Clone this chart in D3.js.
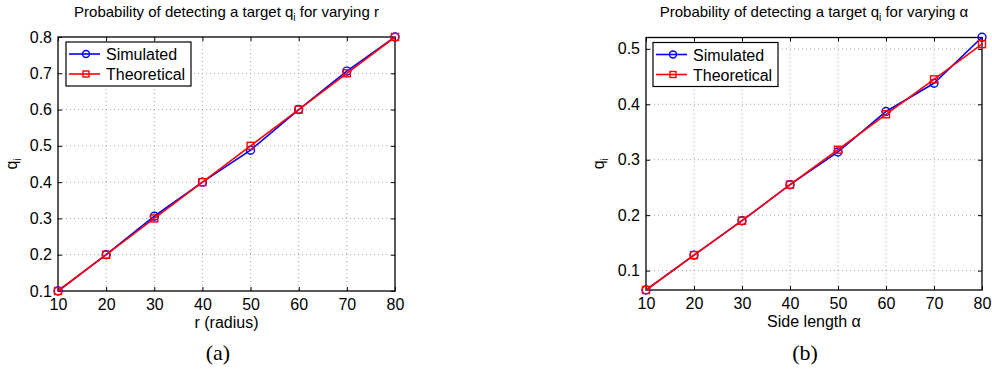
<!DOCTYPE html>
<html>
<head>
<meta charset="utf-8">
<script src="https://cdn.jsdelivr.net/npm/d3@7"></script>
<style>
  body { margin: 0; background: #fff; }
  text { font-family: "Liberation Sans", Arial, sans-serif; }
</style>
</head>
<body>
<svg id="chart"></svg>
<script>
// x values shared by both panels
const xValues = [10, 20, 30, 40, 50, 60, 70, 80];

// panel (a): varying r
const simulatedR = [0.1, 0.2, 0.306, 0.4, 0.488, 0.6, 0.706, 0.8];
const theoreticalR = [0.1, 0.2, 0.3, 0.4, 0.5, 0.6, 0.7, 0.8];
const yTicksR = [0.1, 0.2, 0.3, 0.4, 0.5, 0.6, 0.7, 0.8];

// panel (b): varying alpha
const simulatedA = [0.065, 0.128, 0.190, 0.255, 0.314, 0.387, 0.438, 0.521];
const theoreticalA = [0.065, 0.128, 0.190, 0.255, 0.318, 0.382, 0.445, 0.5085];
const yTicksA = [0.1, 0.2, 0.3, 0.4, 0.5];

const seriesNames = ['Simulated', 'Theoretical'];

const width = 992, height = 373;
const svg = d3.select('#chart').attr('width', width).attr('height', height);
const sans = '"Liberation Sans", Arial, sans-serif';

const drawPanel = (cfg) => {
  const { left, right, top, bottom } = cfg;

  const x = d3.scaleLinear().domain([10, 80]).range([left, right]);
  const y = d3.scaleLinear().domain(cfg.yDomain).range([bottom, top]);

  const g = svg.append('g');

  // dotted grid
  g.append('g')
    .selectAll('line')
    .data(xValues.slice(1, -1))
    .enter()
    .append('line')
    .attr('x1', (d) => x(d)).attr('x2', (d) => x(d))
    .attr('y1', top).attr('y2', bottom)
    .attr('stroke', '#8a8a8a').attr('stroke-width', 0.8)
    .attr('stroke-dasharray', '1,3');

  g.append('g')
    .selectAll('line')
    .data(cfg.yTicks.filter((t) => y(t) > top + 1 && y(t) < bottom - 1))
    .enter()
    .append('line')
    .attr('x1', left).attr('x2', right)
    .attr('y1', (d) => y(d)).attr('y2', (d) => y(d))
    .attr('stroke', '#8a8a8a').attr('stroke-width', 0.8)
    .attr('stroke-dasharray', '1,3');

  // axes: ticks point inwards, MATLAB style
  const fmt = d3.format('.1f');
  const bottomAxis = g.append('g')
    .attr('transform', `translate(0, ${bottom})`)
    .call(d3.axisBottom(x).tickValues(xValues).tickSizeInner(-4).tickSizeOuter(0).tickPadding(8));
  const leftAxis = g.append('g')
    .attr('transform', `translate(${left}, 0)`)
    .call(d3.axisLeft(y).tickValues(cfg.yTicks).tickFormat(fmt).tickSizeInner(-4).tickSizeOuter(0).tickPadding(6));
  g.append('g')
    .attr('transform', `translate(0, ${top})`)
    .call(d3.axisTop(x).tickValues(xValues).tickSizeInner(-4).tickSizeOuter(0).tickFormat(''));
  g.append('g')
    .attr('transform', `translate(${right}, 0)`)
    .call(d3.axisRight(y).tickValues(cfg.yTicks).tickSizeInner(-4).tickSizeOuter(0).tickFormat(''));

  g.selectAll('.domain').remove();
  g.selectAll('.tick line').attr('stroke', '#000');
  [bottomAxis, leftAxis].forEach((a) => {
    a.attr('font-family', sans).attr('font-size', 16);
    a.selectAll('text').attr('fill', '#000');
  });

  g.append('rect')
    .attr('x', left).attr('y', top)
    .attr('width', right - left).attr('height', bottom - top)
    .attr('fill', 'none').attr('stroke', '#000').attr('stroke-width', 1.3);

  // lines and markers
  const line = d3.line().x((d) => x(d[0])).y((d) => y(d[1]));
  const sim = xValues.map((v, i) => [v, cfg.simulated[i]]);
  const theo = xValues.map((v, i) => [v, cfg.theoretical[i]]);

  g.append('path').datum(sim).attr('d', line)
    .attr('fill', 'none').attr('stroke', '#0000ff').attr('stroke-width', 1.6);
  g.append('g').selectAll('circle').data(sim).enter().append('circle')
    .attr('cx', (d) => x(d[0])).attr('cy', (d) => y(d[1])).attr('r', 4)
    .attr('fill', 'none').attr('stroke', '#0000ff').attr('stroke-width', 1.4);

  g.append('path').datum(theo).attr('d', line)
    .attr('fill', 'none').attr('stroke', '#ff0000').attr('stroke-width', 1.6);
  g.append('g').selectAll('rect').data(theo).enter().append('rect')
    .attr('x', (d) => x(d[0]) - 3.5).attr('y', (d) => y(d[1]) - 3.5)
    .attr('width', 7).attr('height', 7)
    .attr('fill', 'none').attr('stroke', '#ff0000').attr('stroke-width', 1.4);

  // legend
  const lg = g.append('g').attr('transform', `translate(${left + cfg.legendDx}, ${top + 5})`);
  lg.append('rect').attr('x', 0).attr('y', 0)
    .attr('width', 125).attr('height', 44)
    .attr('fill', '#fff').attr('stroke', '#000').attr('stroke-width', 1.2);
  seriesNames.forEach((name, i) => {
    const cy = 12 + i * 20;
    const color = i === 0 ? '#0000ff' : '#ff0000';
    lg.append('line').attr('x1', 3).attr('x2', 34).attr('y1', cy).attr('y2', cy)
      .attr('stroke', color).attr('stroke-width', 1.6);
    if (i === 0) {
      lg.append('circle').attr('cx', 20).attr('cy', cy).attr('r', 3.5)
        .attr('fill', 'none').attr('stroke', color).attr('stroke-width', 1.4);
    } else {
      lg.append('rect').attr('x', 17).attr('y', cy - 3).attr('width', 6).attr('height', 6)
        .attr('fill', 'none').attr('stroke', color).attr('stroke-width', 1.4);
    }
    lg.append('text').attr('x', 40).attr('y', cy + 6)
      .attr('font-size', 16).attr('fill', '#000').text(name);
  });

  // title with subscript
  const title = svg.append('text')
    .attr('x', (left + right) / 2).attr('y', 17)
    .attr('text-anchor', 'middle').attr('font-size', 15).attr('fill', '#000');
  title.append('tspan').text('Probability of detecting a target q');
  title.append('tspan').attr('font-size', 10).attr('dy', 4).text('i');
  title.append('tspan').attr('dy', -4).text(' ' + cfg.titleTail);

  // x label
  svg.append('text')
    .attr('x', (left + right) / 2).attr('y', bottom + 37)
    .attr('text-anchor', 'middle').attr('font-size', 16).attr('fill', '#000')
    .text(cfg.xLabel);

  // y label q_i
  const yl = svg.append('text')
    .attr('transform', `translate(${cfg.yLabelX}, ${(top + bottom) / 2}) rotate(-90)`)
    .attr('text-anchor', 'middle').attr('font-size', 16).attr('fill', '#000');
  yl.append('tspan').text('q');
  yl.append('tspan').attr('font-size', 10).attr('dy', 4).text('i');

  // sub caption
  svg.append('text')
    .attr('x', cfg.captionX).attr('y', 360)
    .attr('text-anchor', 'middle').attr('font-size', 22).attr('fill', '#000')
    .style('font-family', '"Liberation Serif", "Times New Roman", serif')
    .text(cfg.caption);
};

drawPanel({
  left: 58, right: 395, top: 37, bottom: 291,
  yDomain: [0.1, 0.8], yTicks: yTicksR,
  simulated: simulatedR, theoretical: theoreticalR,
  titleTail: 'for varying r', xLabel: 'r (radius)',
  yLabelX: 17, captionX: 218, caption: '(a)', legendDx: 8
});

drawPanel({
  left: 646, right: 982, top: 37.5, bottom: 290,
  yDomain: [0.065, 0.5205], yTicks: yTicksA,
  simulated: simulatedA, theoretical: theoreticalA,
  titleTail: 'for varying α', xLabel: 'Side length α',
  yLabelX: 604, captionX: 805, caption: '(b)', legendDx: 7
});
</script>
</body>
</html>
